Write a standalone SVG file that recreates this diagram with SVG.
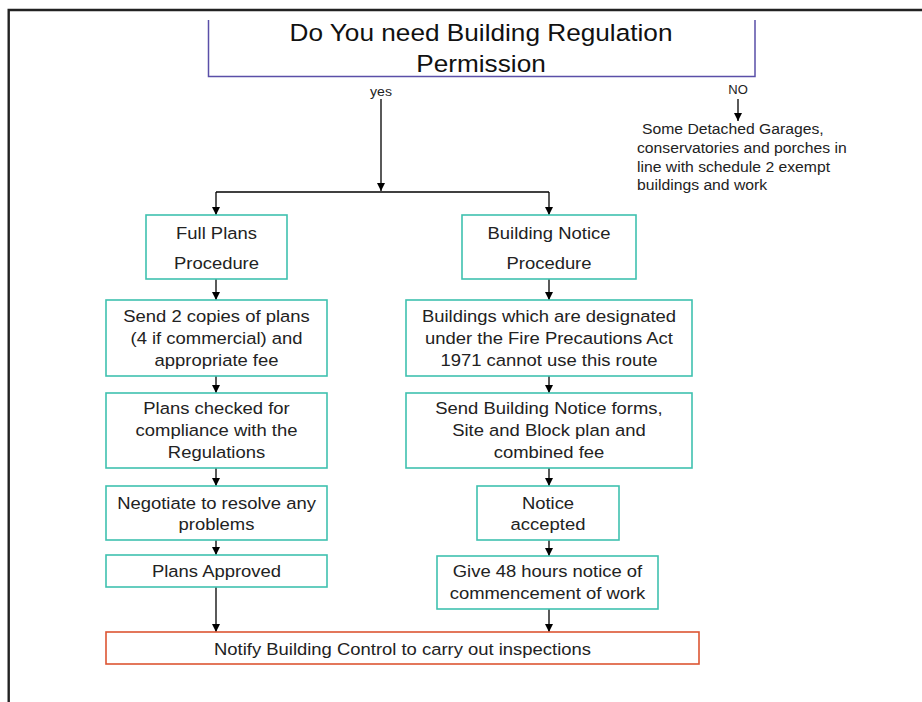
<svg xmlns="http://www.w3.org/2000/svg" width="922" height="702" viewBox="0 0 922 702">
<defs>
<marker id="ah" viewBox="0 0 10 10" markerWidth="9" markerHeight="8" refX="10" refY="5" orient="auto" markerUnits="userSpaceOnUse">
<path d="M0,0 L10,5 L0,10 z" fill="#000"/>
</marker>
</defs>
<style>
text{font-family:"Liberation Sans",Arial,sans-serif;fill:#222;text-anchor:middle}
.t{font-size:23.5px;fill:#111}
.b{font-size:17px}
.s{font-size:13px}
.n{font-size:14.5px;text-anchor:start}
.box{fill:#fff;stroke:#3fc1af;stroke-width:1.6}
.red{fill:#fff;stroke:#dd5533;stroke-width:1.6}
.ttl{fill:none;stroke:#5a4fa8;stroke-width:1.5}
.c{fill:none;stroke:#000;stroke-width:1.3}
.ca{fill:none;stroke:#000;stroke-width:1.3;marker-end:url(#ah)}
</style>
<rect width="922" height="702" fill="#fff"/>
<path d="M8.7,702 V10 H922" fill="none" stroke="#222" stroke-width="2.4"/>

<g id="title">
<path class="ttl" d="M208.5,20 V76.5 H755 V20"/>
<text class="t" transform="translate(481 0) scale(1.115 1)" x="0" y="41.5">Do You need Building Regulation</text>
<text class="t" transform="translate(481 0) scale(1.115 1)" x="0" y="72.5">Permission</text>
</g>

<g id="labels">
<text class="s" transform="translate(381 0) scale(1.085 1)" x="0" y="96">yes</text>
<text class="s" x="738" y="94">NO</text>
</g>

<g id="exempt">
<text class="n" transform="translate(642 0) scale(1.085 1)" x="0" y="134">Some Detached Garages,</text>
<text class="n" transform="translate(637 0) scale(1.085 1)" x="0" y="153">conservatories and porches in</text>
<text class="n" transform="translate(637 0) scale(1.085 1)" x="0" y="172">line with schedule 2 exempt</text>
<text class="n" transform="translate(637 0) scale(1.085 1)" x="0" y="190">buildings and work</text>
</g>

<g id="connectors">
<path class="ca" d="M381,99 V191"/>
<path class="c" d="M216,192 H549"/>
<path class="ca" d="M216,192 V215"/>
<path class="ca" d="M549,192 V215"/>
<path class="ca" d="M216,279 V300"/>
<path class="ca" d="M216,376 V393"/>
<path class="ca" d="M216,468 V486"/>
<path class="ca" d="M216,540 V555"/>
<path class="ca" d="M216,587 V632"/>
<path class="ca" d="M549,279 V300"/>
<path class="ca" d="M549,376 V393"/>
<path class="ca" d="M549,468 V486"/>
<path class="ca" d="M549,540 V556"/>
<path class="ca" d="M549,609 V632"/>
<path class="ca" d="M738,99 V121"/>
</g>

<g id="fullplans">
<rect class="box" x="146" y="215" width="141" height="64"/>
<text class="b" transform="translate(216.5 0) scale(1.085 1)" x="0" y="239">Full Plans</text>
<text class="b" transform="translate(216.5 0) scale(1.085 1)" x="0" y="269">Procedure</text>
</g>

<g id="sendcopies">
<rect class="box" x="106" y="300" width="221" height="76"/>
<text class="b" transform="translate(216.5 0) scale(1.085 1)" x="0" y="322">Send 2 copies of plans</text>
<text class="b" transform="translate(216.5 0) scale(1.085 1)" x="0" y="344">(4 if commercial) and</text>
<text class="b" transform="translate(216.5 0) scale(1.085 1)" x="0" y="366">appropriate fee</text>
</g>

<g id="planschecked">
<rect class="box" x="106" y="393" width="221" height="75"/>
<text class="b" transform="translate(216.5 0) scale(1.085 1)" x="0" y="414">Plans checked for</text>
<text class="b" transform="translate(216.5 0) scale(1.085 1)" x="0" y="436">compliance with the</text>
<text class="b" transform="translate(216.5 0) scale(1.085 1)" x="0" y="458">Regulations</text>
</g>

<g id="negotiate">
<rect class="box" x="106" y="486" width="221" height="54"/>
<text class="b" transform="translate(216.5 0) scale(1.085 1)" x="0" y="509">Negotiate to resolve any</text>
<text class="b" transform="translate(216.5 0) scale(1.085 1)" x="0" y="530">problems</text>
</g>

<g id="approved">
<rect class="box" x="106" y="555" width="221" height="32"/>
<text class="b" transform="translate(216.5 0) scale(1.085 1)" x="0" y="577">Plans Approved</text>
</g>

<g id="buildingnotice">
<rect class="box" x="462" y="215" width="174" height="64"/>
<text class="b" transform="translate(549 0) scale(1.085 1)" x="0" y="239">Building Notice</text>
<text class="b" transform="translate(549 0) scale(1.085 1)" x="0" y="269">Procedure</text>
</g>

<g id="designated">
<rect class="box" x="406" y="300" width="286" height="76"/>
<text class="b" transform="translate(549 0) scale(1.085 1)" x="0" y="322">Buildings which are designated</text>
<text class="b" transform="translate(549 0) scale(1.085 1)" x="0" y="344">under the Fire Precautions Act</text>
<text class="b" transform="translate(549 0) scale(1.085 1)" x="0" y="366">1971 cannot use this route</text>
</g>

<g id="sendnotice">
<rect class="box" x="406" y="393" width="286" height="75"/>
<text class="b" transform="translate(549 0) scale(1.085 1)" x="0" y="414">Send Building Notice forms,</text>
<text class="b" transform="translate(549 0) scale(1.085 1)" x="0" y="436">Site and Block plan and</text>
<text class="b" transform="translate(549 0) scale(1.085 1)" x="0" y="458">combined fee</text>
</g>

<g id="accepted">
<rect class="box" x="477" y="486" width="142" height="54"/>
<text class="b" transform="translate(548 0) scale(1.085 1)" x="0" y="509">Notice</text>
<text class="b" transform="translate(548 0) scale(1.085 1)" x="0" y="530">accepted</text>
</g>

<g id="give48">
<rect class="box" x="437" y="556" width="221" height="53"/>
<text class="b" transform="translate(547.5 0) scale(1.085 1)" x="0" y="577">Give 48 hours notice of</text>
<text class="b" transform="translate(547.5 0) scale(1.085 1)" x="0" y="599">commencement of work</text>
</g>

<g id="notify">
<rect class="red" x="106" y="632" width="593" height="32"/>
<text class="b" transform="translate(402.5 0) scale(1.085 1)" x="0" y="655">Notify Building Control to carry out inspections</text>
</g>
</svg>
